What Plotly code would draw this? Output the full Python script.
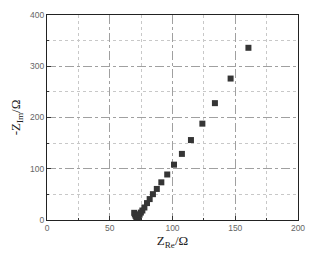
import plotly.graph_objects as go

z_re = [69.5, 70.0, 70.6, 71.2, 71.8, 72.4, 73.0, 73.8, 74.8, 76.0, 77.6, 79.7,
        81.8, 84.4, 87.5, 91.1, 95.8, 101.2, 107.5, 114.7, 123.8, 133.8, 146.3, 160.5]
z_im = [14, 11, 8, 5.5, 3.5, 4.5, 7, 10.5, 14.5, 18.5, 24.4, 33,
        40.8, 50.4, 60.6, 73.5, 88.8, 108, 129, 156, 188, 228, 276, 336]

fig = go.Figure()
fig.add_trace(go.Scatter(
    x=z_re, y=z_im, mode="markers",
    marker=dict(symbol="square", size=6, color="#353535", line=dict(width=0)),
    showlegend=False))

axis_common = dict(
    showline=True, linecolor="#222", linewidth=1.2, mirror=True,
    ticks="inside", ticklen=4, tickcolor="#333",
    tickfont=dict(family="Arial, Liberation Sans", size=8.5, color="#666"),
    showgrid=True, gridcolor="#a0a0a0", griddash="dashdot", gridwidth=1,
    zeroline=False,
)

fig.update_xaxes(range=[0, 200], tickvals=[0, 50, 100, 150, 200],
                 minor=dict(dtick=25, showgrid=True, gridcolor="#c8c8c8", griddash="dot",
                            ticks="inside", ticklen=2, tickcolor="#333"),
                 title=dict(text="Z<sub>Re</sub>/Ω", standoff=3,
                            font=dict(family="Liberation Serif", size=13, color="#222")),
                 **axis_common)
fig.update_yaxes(range=[0, 400], tickvals=[0, 100, 200, 300, 400],
                 minor=dict(dtick=50, showgrid=True, gridcolor="#c8c8c8", griddash="dot",
                            ticks="inside", ticklen=2, tickcolor="#333"),
                 title=dict(text="-Z<sub>Im</sub>/Ω", standoff=6,
                            font=dict(family="Liberation Serif", size=13, color="#222")),
                 **axis_common)

fig.update_layout(
    width=315, height=255,
    margin=dict(l=47, r=10, t=14, b=33),
    paper_bgcolor="white", plot_bgcolor="white",
)

fig.write_html("out.html")
